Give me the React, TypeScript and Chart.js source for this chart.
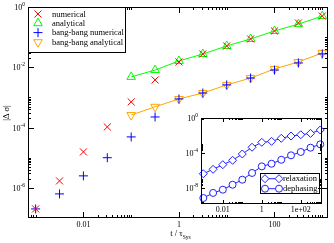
import React, { useEffect, useRef } from 'react';
import { Chart, registerables } from 'chart.js';

Chart.register(...registerables);

// ---- data ----
const tValues = [1e-3, 3.162e-3, 1e-2, 3.162e-2, 0.1, 0.3162, 1, 3.162, 10, 31.62, 100, 316.2, 1000];
const tAnalytical = [0.1, 0.3162, 1, 3.162, 10, 31.62, 100, 316.2, 1000];
const numerical = [2.0e-7, 1.7e-6, 1.56e-5, 1.05e-4, 7.1e-4, 3.8e-3, 0.015, 0.0276, 0.051, 0.087, 0.16, 0.295, 0.5];
const analytical = [4.8e-3, 8.1e-3, 0.0162, 0.0276, 0.051, 0.087, 0.16, 0.27, 0.5];
const bangBangNumerical = [2.0e-7, 6.3e-7, 2.5e-6, 1.0e-5, 4.9e-5, 2.25e-4, 8.9e-4, 1.4e-3, 2.6e-3, 4.4e-3, 8.1e-3, 0.0139, 0.0277];
const bangBangAnalytical = [2.6e-4, 4.9e-4, 8.9e-4, 1.4e-3, 2.6e-3, 4.4e-3, 8.8e-3, 0.015, 0.03];

const relaxation = [4.0e-7, 1.3e-6, 4.4e-6, 1.4e-5, 7.4e-5, 4.4e-4, 1.6e-3, 2.1e-3, 4.7e-3, 8.5e-3, 0.012, 0.017, 0.042];
const dephasing = [6.6e-10, 2.5e-9, 5.9e-9, 2.2e-8, 8.3e-8, 4.9e-7, 2.8e-6, 5.6e-6, 1.6e-5, 5.2e-5, 1.26e-4, 3.9e-4, 9.5e-4];

const xTickValues = [0.01, 1, 100];
const xTickLabels = ['0.01', '1', '100'];
const yTickValues = [1, 1e-2, 1e-4, 1e-6];
const yTickExponents = ['0', '-2', '-4', '-6'];
const insetXTickValues = [0.01, 1, 100];
const insetXTickLabels = ['0.01', '1', '1e+02'];
const insetYTickValues = [1, 1e-4, 1e-8];
const insetYTickExponents = ['0', '-4', '-8'];

const xTitle = 't / τ';
const xTitleSub = 'Sys';
const yTitle = '|Δ σ|';

// ---- styling helpers ----
const SERIF = "'Liberation Serif', 'Times New Roman', serif";
const BASE_FONT = `8px ${SERIF}`;
const SUP_FONT = `5.5px ${SERIF}`;
const LEGEND_FONT = `8.5px ${SERIF}`;

function pts(xs: number[], ys: number[]) {
  return xs.map((x, i) => ({ x, y: ys[i] }));
}

function minorTicks(majors: number[], step: number, lo: number, hi: number) {
  const sorted = [...majors].sort((a, b) => a - b);
  const ext = [sorted[0] / step, ...sorted, sorted[sorted.length - 1] * step];
  const out: number[] = [];
  ext.forEach((v) => {
    for (let m = 2; m <= 10; m++) {
      const t = v * m;
      if (t > lo * 1.0001 && t < hi / 1.0001) out.push(t);
    }
  });
  return out;
}

function drawMarker(ctx: CanvasRenderingContext2D, style: string, x: number, y: number, r: number, rot: number, color: string, fill?: string) {
  ctx.save();
  ctx.strokeStyle = color;
  ctx.lineWidth = 1;
  ctx.beginPath();
  if (style === 'crossRot') {
    const d = r * Math.SQRT1_2;
    ctx.moveTo(x - d, y - d); ctx.lineTo(x + d, y + d);
    ctx.moveTo(x - d, y + d); ctx.lineTo(x + d, y - d);
  } else if (style === 'cross') {
    ctx.moveTo(x - r, y); ctx.lineTo(x + r, y);
    ctx.moveTo(x, y - r); ctx.lineTo(x, y + r);
  } else if (style === 'triangle') {
    let a = (rot * Math.PI) / 180;
    ctx.moveTo(x + Math.sin(a) * r, y - Math.cos(a) * r);
    a += (2 * Math.PI) / 3;
    ctx.lineTo(x + Math.sin(a) * r, y - Math.cos(a) * r);
    a += (2 * Math.PI) / 3;
    ctx.lineTo(x + Math.sin(a) * r, y - Math.cos(a) * r);
    ctx.closePath();
  } else if (style === 'rectRot') {
    ctx.moveTo(x - r, y); ctx.lineTo(x, y - r); ctx.lineTo(x + r, y); ctx.lineTo(x, y + r);
    ctx.closePath();
  } else {
    ctx.arc(x, y, r, 0, Math.PI * 2);
  }
  if (fill) { ctx.fillStyle = fill; ctx.fill(); }
  ctx.stroke();
  ctx.restore();
}

function drawPow(ctx: CanvasRenderingContext2D, exp: string, xr: number, y: number) {
  ctx.textBaseline = 'middle';
  ctx.textAlign = 'left';
  ctx.font = SUP_FONT;
  const ew = ctx.measureText(exp).width;
  ctx.font = BASE_FONT;
  const bw = ctx.measureText('10').width;
  const x0 = xr - ew - bw;
  ctx.fillText('10', x0, y);
  ctx.font = SUP_FONT;
  ctx.fillText(exp, x0 + bw, y - 3.5);
}

function drawFrame(chart: any, o: { xMaj: number[]; xMin: number[]; yMaj: number[]; yMin: number[]; majLen: number; minLen: number }) {
  const { ctx, chartArea } = chart;
  const { left, top, right, bottom } = chartArea;
  const xs = chart.scales.x;
  const ys = chart.scales.y;
  ctx.save();
  ctx.strokeStyle = '#000';
  ctx.lineWidth = 1;
  ctx.beginPath();
  const vx = (vals: number[], len: number) => vals.forEach((v) => {
    const p = Math.round(xs.getPixelForValue(v)) + 0.5;
    ctx.moveTo(p, bottom); ctx.lineTo(p, bottom - len);
    ctx.moveTo(p, top); ctx.lineTo(p, top + len);
  });
  const vy = (vals: number[], len: number) => vals.forEach((v) => {
    const p = Math.round(ys.getPixelForValue(v)) + 0.5;
    ctx.moveTo(left, p); ctx.lineTo(left + len, p);
    ctx.moveTo(right, p); ctx.lineTo(right - len, p);
  });
  vx(o.xMaj, o.majLen); vx(o.xMin, o.minLen);
  vy(o.yMaj, o.majLen); vy(o.yMin, o.minLen);
  ctx.stroke();
  ctx.strokeRect(left + 0.5, top + 0.5, right - left - 1, bottom - top - 1);
  ctx.restore();
}

// ---- ranges ----
const MAIN_X_MIN = Math.pow(10, -3.16);
const MAIN_X_MAX = Math.pow(10, 3.12);
const MAIN_Y_MIN = 1e-7;
const MAIN_Y_MAX = 1;
const INSET_X_MIN = Math.pow(10, -3.12);
const INSET_X_MAX = Math.pow(10, 3.09);
const INSET_Y_MIN = Math.pow(10, -9.87);
const INSET_Y_MAX = 1;

const mainPlugin = {
  id: 'mainDecor',
  afterDraw(chart: any) {
    const ctx: CanvasRenderingContext2D = chart.ctx;
    const { left, bottom } = chart.chartArea;
    drawFrame(chart, {
      xMaj: xTickValues,
      xMin: minorTicks(xTickValues, 100, MAIN_X_MIN, MAIN_X_MAX),
      yMaj: yTickValues,
      yMin: minorTicks(yTickValues, 100, MAIN_Y_MIN, MAIN_Y_MAX),
      majLen: 6,
      minLen: 3,
    });
    ctx.save();
    ctx.fillStyle = '#000';
    // x tick labels
    ctx.font = BASE_FONT;
    ctx.textAlign = 'center';
    ctx.textBaseline = 'middle';
    xTickValues.forEach((v, i) => {
      ctx.fillText(xTickLabels[i], chart.scales.x.getPixelForValue(v), bottom + 6.5);
    });
    // y tick labels
    yTickValues.forEach((v, i) => {
      drawPow(ctx, yTickExponents[i], left - 3, chart.scales.y.getPixelForValue(v) + 1);
    });
    // x title with subscript
    ctx.font = LEGEND_FONT;
    const w1 = ctx.measureText(xTitle).width;
    ctx.font = SUP_FONT;
    const w2 = ctx.measureText(xTitleSub).width;
    const x0 = 180.5 - (w1 + w2) / 2;
    ctx.textAlign = 'left';
    ctx.textBaseline = 'alphabetic';
    ctx.font = LEGEND_FONT;
    ctx.fillText(xTitle, x0, 236);
    ctx.font = SUP_FONT;
    ctx.fillText(xTitleSub, x0 + w1, 238.5);
    // y title
    ctx.save();
    ctx.translate(7, 113);
    ctx.rotate(-Math.PI / 2);
    ctx.font = LEGEND_FONT;
    ctx.textAlign = 'center';
    ctx.textBaseline = 'middle';
    ctx.fillText(yTitle, 0, 0);
    ctx.restore();
    // legend
    ctx.fillStyle = '#fff';
    ctx.fillRect(29, 8, 96, 44);
    ctx.strokeStyle = '#000';
    ctx.lineWidth = 1;
    ctx.strokeRect(28.5, 7.5, 97, 45);
    const rows = [14, 23.2, 32.6, 42.2];
    chart.data.datasets.forEach((ds: any, i: number) => {
      drawMarker(ctx, ds.pointStyle, 38, rows[i], ds.pointRadius, ds.pointRotation || 0, ds.borderColor);
      ctx.fillStyle = '#000';
      ctx.font = LEGEND_FONT;
      ctx.textAlign = 'left';
      ctx.textBaseline = 'middle';
      ctx.fillText(ds.label, 52, rows[i] + 0.5);
    });
    ctx.restore();
  },
};

const insetPlugin = {
  id: 'insetDecor',
  beforeDatasetsDraw(chart: any) {
    const { ctx, chartArea } = chart;
    ctx.save();
    ctx.fillStyle = '#fff';
    ctx.fillRect(chartArea.left, chartArea.top, chartArea.right - chartArea.left, chartArea.bottom - chartArea.top);
    ctx.restore();
  },
  afterDraw(chart: any) {
    const ctx: CanvasRenderingContext2D = chart.ctx;
    const { left, bottom } = chart.chartArea;
    // legend box
    ctx.save();
    ctx.fillStyle = '#fff';
    ctx.fillRect(80, 61, 60, 20);
    ctx.strokeStyle = '#000';
    ctx.lineWidth = 1;
    ctx.strokeRect(80.5, 61.5, 59, 20);
    const rows = [66.7, 76.7];
    chart.data.datasets.forEach((ds: any, i: number) => {
      ctx.strokeStyle = ds.borderColor;
      ctx.beginPath();
      ctx.moveTo(85, rows[i]);
      ctx.lineTo(99, rows[i]);
      ctx.stroke();
      drawMarker(ctx, ds.pointStyle, 85, rows[i], ds.pointRadius, 0, ds.borderColor, '#fff');
      drawMarker(ctx, ds.pointStyle, 99, rows[i], ds.pointRadius, 0, ds.borderColor, '#fff');
      ctx.fillStyle = '#000';
      ctx.font = LEGEND_FONT;
      ctx.textAlign = 'left';
      ctx.textBaseline = 'middle';
      ctx.fillText(ds.label, 103, rows[i] + 0.5);
    });
    ctx.restore();
    drawFrame(chart, {
      xMaj: insetXTickValues,
      xMin: minorTicks(insetXTickValues, 100, INSET_X_MIN, INSET_X_MAX),
      yMaj: insetYTickValues,
      yMin: minorTicks(insetYTickValues, 1e4, INSET_Y_MIN, INSET_Y_MAX),
      majLen: 4,
      minLen: 2,
    });
    ctx.save();
    ctx.fillStyle = '#000';
    ctx.font = BASE_FONT;
    ctx.textAlign = 'center';
    ctx.textBaseline = 'middle';
    insetXTickValues.forEach((v, i) => {
      ctx.fillText(insetXTickLabels[i], chart.scales.x.getPixelForValue(v), bottom + 5.5);
    });
    insetYTickValues.forEach((v, i) => {
      drawPow(ctx, insetYTickExponents[i], left - 3, chart.scales.y.getPixelForValue(v) + 1);
    });
    ctx.restore();
  },
};

export default function App() {
  const mainRef = useRef<HTMLCanvasElement>(null);
  const insetRef = useRef<HTMLCanvasElement>(null);

  useEffect(() => {
    const main = new Chart(mainRef.current as HTMLCanvasElement, {
      type: 'scatter',
      data: {
        datasets: [
          {
            label: 'numerical',
            data: pts(tValues, numerical),
            showLine: false,
            pointStyle: 'crossRot',
            pointRadius: 5,
            borderColor: '#ff0000',
            backgroundColor: 'rgba(0,0,0,0)',
            pointBorderWidth: 1,
          },
          {
            label: 'analytical',
            data: pts(tAnalytical, analytical),
            showLine: true,
            borderWidth: 1,
            pointStyle: 'triangle',
            pointRadius: 5,
            borderColor: '#00ff00',
            backgroundColor: 'rgba(0,0,0,0)',
            pointBorderWidth: 1,
          },
          {
            label: 'bang-bang numerical',
            data: pts(tValues, bangBangNumerical),
            showLine: false,
            pointStyle: 'cross',
            pointRadius: 4.5,
            borderColor: '#0000ff',
            backgroundColor: 'rgba(0,0,0,0)',
            pointBorderWidth: 1,
          },
          {
            label: 'bang-bang analytical',
            data: pts(tAnalytical, bangBangAnalytical),
            showLine: true,
            borderWidth: 1,
            pointStyle: 'triangle',
            pointRotation: 180,
            pointRadius: 5,
            borderColor: '#ffa500',
            backgroundColor: 'rgba(0,0,0,0)',
            pointBorderWidth: 1,
          },
        ] as any,
      },
      options: {
        responsive: false,
        animation: false,
        devicePixelRatio: 1,
        clip: false as any,
        layout: { padding: { left: 28, top: 7, right: 3, bottom: 25 } },
        scales: {
          x: { type: 'logarithmic', min: MAIN_X_MIN, max: MAIN_X_MAX, display: false },
          y: { type: 'logarithmic', min: MAIN_Y_MIN, max: MAIN_Y_MAX, display: false },
        },
        plugins: { legend: { display: false }, tooltip: { enabled: false } },
        elements: { point: { hoverRadius: 5 } },
      },
      plugins: [mainPlugin],
    });

    const inset = new Chart(insetRef.current as HTMLCanvasElement, {
      type: 'scatter',
      data: {
        datasets: [
          {
            label: 'relaxation',
            data: pts(tValues, relaxation),
            showLine: true,
            borderWidth: 1,
            pointStyle: 'rectRot',
            pointRadius: 4,
            borderColor: '#2020ff',
            pointBackgroundColor: '#ffffff',
            pointBorderWidth: 1,
          },
          {
            label: 'dephasing',
            data: pts(tValues, dephasing),
            showLine: true,
            borderWidth: 1,
            pointStyle: 'circle',
            pointRadius: 3.5,
            borderColor: '#2020ff',
            pointBackgroundColor: '#ffffff',
            pointBorderWidth: 1,
          },
        ] as any,
      },
      options: {
        responsive: false,
        animation: false,
        devicePixelRatio: 1,
        clip: false as any,
        layout: { padding: { left: 21, top: 6, right: 8, bottom: 18 } },
        scales: {
          x: { type: 'logarithmic', min: INSET_X_MIN, max: INSET_X_MAX, display: false },
          y: { type: 'logarithmic', min: INSET_Y_MIN, max: INSET_Y_MAX, display: false },
        },
        plugins: { legend: { display: false }, tooltip: { enabled: false } },
      },
      plugins: [insetPlugin],
    });

    return () => {
      main.destroy();
      inset.destroy();
    };
  }, []);

  return (
    <div style={{ position: 'fixed', left: 0, top: 0, width: 334, height: 243, background: '#fff' }}>
      <canvas ref={mainRef} width={334} height={243} style={{ position: 'absolute', left: 0, top: 0, width: 334, height: 243 }} />
      <canvas ref={insetRef} width={150} height={110} style={{ position: 'absolute', left: 180, top: 112, width: 150, height: 110 }} />
    </div>
  );
}
